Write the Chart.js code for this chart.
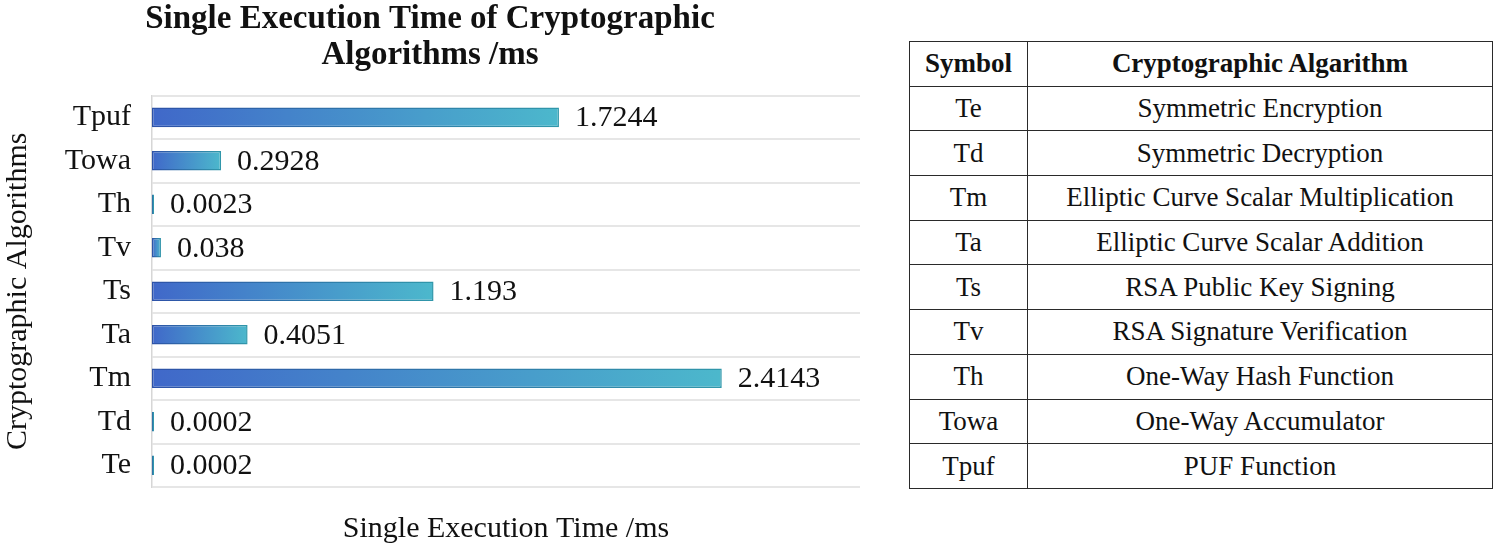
<!DOCTYPE html>
<html lang="en">
  <head>
    <meta charset="UTF-8">
    <title>Single Execution Time of Cryptographic Algorithms</title>
    <style>
      body { margin: 0; background: #fff; }
      #chartBox { position: absolute; left: 0; top: 0; width: 880px; height: 551px; }
      #symbols {
        position: absolute; left: 909px; top: 41px; width: 584px;
        border-collapse: collapse;
        font-family: 'Liberation Serif', 'Times New Roman', serif;
        font-size: 27px; color: #111;
      }
      #symbols th, #symbols td {
        border: 1.5px solid #2a2a2a; height: 43.7px; padding: 0;
        text-align: center; vertical-align: middle;
      }
      #symbols th:first-child, #symbols td:first-child { width: 117px; }
    </style>
    <script src="https://cdn.jsdelivr.net/npm/chart.js"></script>
  </head>

  <body>
    <div id="chartBox">
      <canvas id="myChart" width="880" height="551"></canvas>
    </div>

    <table id="symbols">
      <thead>
        <tr><th>Symbol</th><th>Cryptographic Algarithm</th></tr>
      </thead>
      <tbody id="symbolRows"></tbody>
    </table>

<script>
  // data, bottom to top as in the table
  const symbols = ['Te', 'Td', 'Tm', 'Ta', 'Ts', 'Tv', 'Th', 'Towa', 'Tpuf'];
  const times = [0.0002, 0.0002, 2.4143, 0.4051, 1.193, 0.038, 0.0023, 0.2928, 1.7244];
  const algorithms = [
    'Symmetric Encryption',
    'Symmetric Decryption',
    'Elliptic Curve Scalar Multiplication',
    'Elliptic Curve Scalar Addition',
    'RSA Public Key Signing',
    'RSA Signature Verification',
    'One-Way Hash Function',
    'One-Way Accumulator',
    'PUF Function'
  ];

  const tbody = document.getElementById('symbolRows');
  symbols.forEach((s, i) => {
    const tr = document.createElement('tr');
    tr.innerHTML = '<td>' + s + '</td><td>' + algorithms[i] + '</td>';
    tbody.appendChild(tr);
  });

  const serif = "'Liberation Serif', 'Times New Roman', serif";
  Chart.defaults.font.family = serif;
  Chart.defaults.color = '#111';

  // gradient from the axis to the end of each bar
  function barGradient(from, to) {
    return (c) => {
      const chart = c.chart;
      if (!chart.chartArea || c.type !== 'data') return to;
      const x0 = chart.scales.x.getPixelForValue(0);
      const x1 = chart.scales.x.getPixelForValue(c.raw);
      const g = chart.ctx.createLinearGradient(x0, 0, Math.max(x1, x0 + 1), 0);
      g.addColorStop(0, from);
      g.addColorStop(1, to);
      return g;
    };
  }

  // numbers written after the bars
  const valueLabels = {
    id: 'valueLabels',
    afterDatasetsDraw(chart) {
      const ctx = chart.ctx;
      const meta = chart.getDatasetMeta(0);
      ctx.save();
      ctx.font = '30px ' + serif;
      ctx.fillStyle = '#111';
      ctx.textBaseline = 'middle';
      meta.data.forEach((bar, i) => {
        ctx.fillText(String(times[i]), bar.x + 16, bar.y + 1);
      });
      ctx.restore();
    }
  };

  const chart = new Chart(document.getElementById('myChart'), {
    type: 'bar',
    data: {
      labels: symbols,
      datasets: [{
        data: times,
        backgroundColor: barGradient('#4068c9', '#4cb8cc'),
        borderColor: barGradient('#2d52a8', '#3097aa'),
        borderWidth: 1.5,
        borderSkipped: false,
        minBarLength: 2,
        categoryPercentage: 1,
        barPercentage: 0.45
      }]
    },
    plugins: [valueLabels],
    options: {
      indexAxis: 'y',
      responsive: false,
      animation: false,
      layout: { padding: { left: 0, right: 20, top: 0, bottom: 0 } },
      plugins: {
        legend: { display: false },
        tooltip: { enabled: false },
        title: {
          display: true,
          text: ['Single Execution Time of Cryptographic', 'Algorithms /ms'],
          font: { size: 33, weight: 'bold', lineHeight: 1.1 },
          color: '#111',
          padding: { top: 1, bottom: 22 }
        }
      },
      scales: {
        x: {
          min: 0,
          max: 3,
          ticks: { display: false },
          grid: { display: false },
          border: { display: false },
          title: {
            display: true,
            text: 'Single Execution Time /ms',
            font: { size: 30, lineHeight: 1.2 },
            padding: { top: 16, bottom: 4 }
          }
        },
        y: {
          reverse: true,
          afterFit: (scale) => { scale.width = 152; },
          ticks: { font: { size: 30 }, padding: 21 },
          grid: { color: '#e6e6e6', lineWidth: 2, drawTicks: false },
          border: { color: '#d6d6d6', width: 1.5 },
          title: {
            display: true,
            text: 'Cryptographic Algorithms',
            font: { size: 30, lineHeight: 1.2 },
            padding: { top: 0, bottom: 0 }
          }
        }
      }
    }
  });
</script>

  </body>
</html>
